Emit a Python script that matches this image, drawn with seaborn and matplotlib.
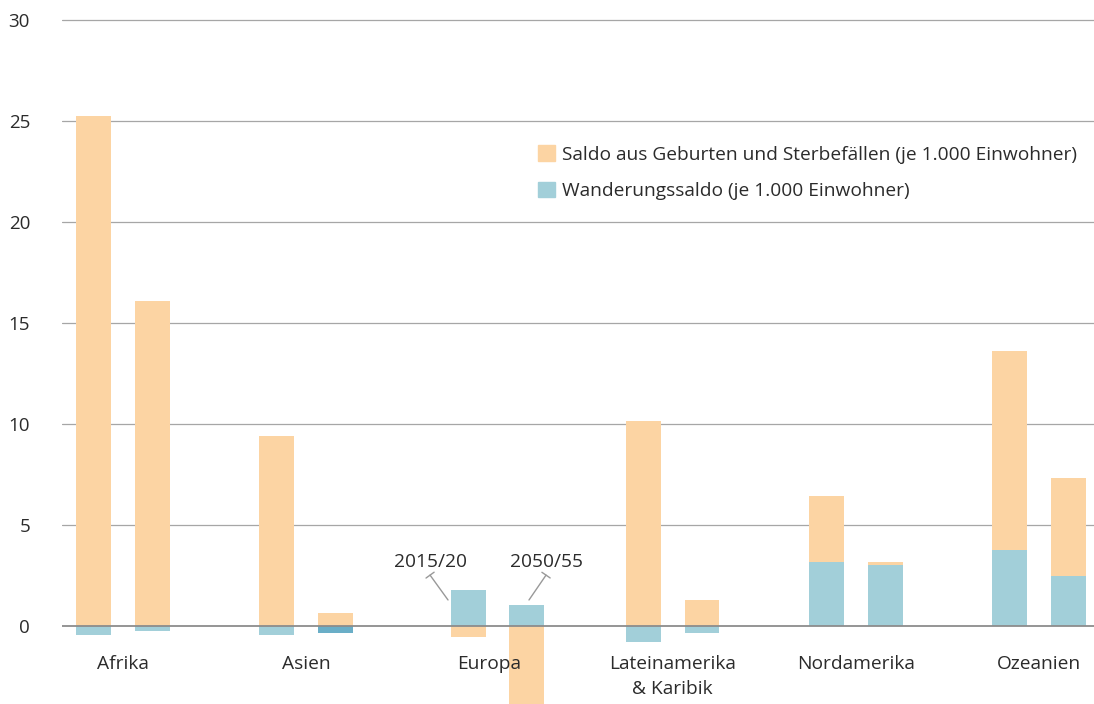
import numpy as np
import matplotlib
matplotlib.use("Agg")
import matplotlib.pyplot as plt
from matplotlib.patches import Patch
import seaborn as sns

# Data (per 1,000 inhabitants)
regions = ["Afrika", "Asien", "Europa", "Lateinamerika\n& Karibik", "Nordamerika", "Ozeanien"]
periods = ["2015/20", "2050/55"]
natural_2015 = [25.25, 9.4, -0.55, 10.15, 3.27, 9.85]
natural_2050 = [16.1, 0.65, -3.85, 1.3, 0.15, 4.85]
migration_2015 = [-0.45, -0.45, 1.8, -0.8, 3.18, 3.75]
migration_2050 = [-0.25, -0.35, 1.05, -0.35, 3.02, 2.5]

# layout: in the original the Europa bars sit slightly right of their label
bar_shift = [0, 0, 0.044, 0, 0, 0]

c_nat = "#fcd4a3"
c_mig = "#a2cfd9"
c_mig_dark = "#6aaec7"
txt = "#2b2b2b"

sns.set_theme(style="white")
plt.rcParams["font.family"] = ["Open Sans", "DejaVu Sans"]

fig = plt.figure(figsize=(10.94, 7.04), dpi=100)
ax = fig.add_axes([62 / 1094, 0, 1 - 62 / 1094, 1 - 16 / 704])

x = np.arange(len(regions))
xb = x + np.array(bar_shift)
off = 0.16
w = 0.19

def stacked(xpos, nat, mig, mig_colors):
    nat = np.array(nat)
    mig = np.array(mig)
    # orange stacks on the blue only when both are positive
    bottom = np.where((nat > 0) & (mig > 0), mig, 0)
    ax.bar(xpos, mig, width=w, color=mig_colors, linewidth=0, zorder=3)
    ax.bar(xpos, nat, width=w, bottom=bottom, color=c_nat, linewidth=0, zorder=3)

cols_2015 = [c_mig] * len(regions)
cols_2050 = [c_mig] * len(regions)
cols_2050[1] = c_mig_dark
stacked(xb - off, natural_2015, migration_2015, cols_2015)
stacked(xb + off, natural_2050, migration_2050, cols_2050)

ax.set_xlim(-0.333, 5.30)
ax.set_ylim(-3.86, 30.2)
yticks = np.arange(0, 31, 5)
ax.set_yticks(yticks)
ax.set_yticklabels([str(t) for t in yticks], fontsize=13.5, color=txt)
ax.tick_params(axis="y", length=0, pad=23)
ax.set_xticks([])
for t in yticks:
    ax.axhline(t, color="#8c8c8c" if t == 0 else "#a6a6a6",
               lw=1.3 if t == 0 else 0.9, zorder=2 if t else 4)
for s in ax.spines.values():
    s.set_visible(False)

# category labels just below the zero line
for xi, name in zip(x, regions):
    ax.text(xi, -1.45, name, ha="center", va="top", fontsize=13.8,
            color=txt, linespacing=1.45, zorder=5)

# period annotations at Europa: label plus a thin leader line with a cap
arrow = dict(arrowstyle="]-, widthA=0.3, lengthA=0", color="#999999",
             lw=1, shrinkA=0, shrinkB=0)
ax.text(1.676, 3.17, periods[0], ha="center", va="center", fontsize=13.8, color=txt)
ax.annotate("", xy=(1.774, 1.29), xytext=(1.676, 2.52), arrowprops=arrow)
ax.text(2.309, 3.17, periods[1], ha="center", va="center", fontsize=13.8, color=txt)
ax.annotate("", xy=(2.216, 1.29), xytext=(2.309, 2.52), arrowprops=arrow)

handles = [Patch(color=c_nat, label="Saldo aus Geburten und Sterbefällen (je 1.000 Einwohner)"),
           Patch(color=c_mig, label="Wanderungssaldo (je 1.000 Einwohner)")]
leg = ax.legend(handles=handles, loc="upper right", bbox_to_anchor=(0.984, 0.812),
                frameon=False, fontsize=13.8, handlelength=0.9, handleheight=0.9,
                handletextpad=0.4, labelspacing=0.92, borderaxespad=0, borderpad=0)
for t in leg.get_texts():
    t.set_color(txt)

fig.savefig("out.png", dpi=100)
